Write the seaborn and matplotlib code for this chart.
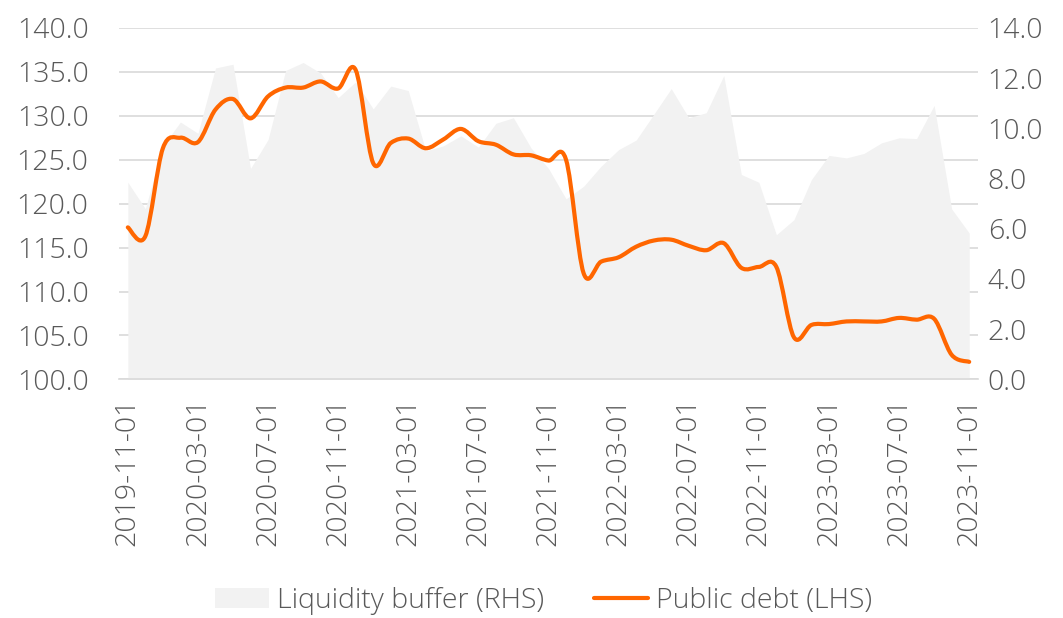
import numpy as np
import pandas as pd
import matplotlib
matplotlib.use("Agg")
import matplotlib.pyplot as plt
from matplotlib.path import Path
from matplotlib.patches import PathPatch, Patch
from matplotlib.lines import Line2D
import seaborn as sns

# Monthly observations, Nov 2019 - Nov 2023
dates = pd.date_range("2019-11-01", "2023-11-01", freq="MS").strftime("%Y-%m-%d").tolist()

public_debt = [117.3, 116.3, 126.3, 127.5, 127.0, 130.7, 131.9, 129.7, 132.2, 133.2,
               133.2, 133.9, 133.1, 135.2, 124.6, 126.9, 127.4, 126.3, 127.3, 128.5,
               127.1, 126.7, 125.6, 125.5, 124.9, 125.0, 112.1, 113.4, 113.9, 115.1,
               115.8, 115.9, 115.2, 114.7, 115.5, 112.7, 112.8, 112.8, 104.8, 106.2,
               106.3, 106.6, 106.6, 106.6, 107.0, 106.8, 106.9, 102.8, 102.0]

liquidity_buffer = [7.85, 6.8, 9.3, 10.25, 9.8, 12.4, 12.55, 8.4, 9.55, 12.3,
                    12.62, 12.2, 11.22, 11.85, 10.77, 11.68, 11.5, 9.1, 9.3, 9.7,
                    9.25, 10.2, 10.42, 9.22, 8.4, 7.19, 7.69, 8.49, 9.15, 9.53,
                    10.55, 11.58, 10.42, 10.62, 12.1, 8.16, 7.85, 5.76, 6.36, 7.96,
                    8.92, 8.82, 9.0, 9.42, 9.62, 9.59, 10.91, 6.79, 5.83]

left_ticks = [100, 105, 110, 115, 120, 125, 130, 135, 140]
right_ticks = [0, 2, 4, 6, 8, 10, 12, 14]

ORANGE = "#FF6600"
AREA = "#F2F2F2"
GRID = "#D9D9D9"
TEXT = "#595959"
FS = 20.5

sns.set_theme(style="white")
plt.rcParams["font.family"] = ["Open Sans", "DejaVu Sans"]
plt.rcParams["font.weight"] = "light"


def smooth_path(xs, ys):
    """Excel-like smoothed line as cubic Bezier segments through the points."""
    pts = np.column_stack([xs, ys]).astype(float)
    n = len(pts)
    verts = [pts[0]]
    codes = [Path.MOVETO]
    for i in range(n - 1):
        p0 = pts[i - 1] if i > 0 else pts[i]
        p1 = pts[i]
        p2 = pts[i + 1]
        p3 = pts[i + 2] if i + 2 < n else pts[i + 1]
        c1 = p1 + (p2 - p0) / 6.0
        c2 = p2 - (p3 - p1) / 6.0
        verts += [c1, c2, p2]
        codes += [Path.CURVE4] * 3
    return Path(verts, codes)


x = np.arange(len(dates))

fig = plt.figure(figsize=(10.63, 6.18), dpi=100)
ax = fig.add_axes([0.112, 0.386, 0.808, 0.569])
ax2 = ax.twinx()
ax3 = ax.twinx()

# left axis: gridlines + labels
ax.set_xlim(-0.5, len(dates) - 0.5)
ax.set_ylim(100, 140)
ax.set_yticks(left_ticks)
ax.set_yticklabels([f"{t:.1f}" for t in left_ticks])
ax.yaxis.grid(True, color=GRID, linewidth=1.2)
ax.set_axisbelow(True)
ax.set_xticks(x[::4])
ax.set_xticklabels(dates[::4], rotation=90)

# right axis: liquidity buffer area
ax2.fill_between(x, 0, liquidity_buffer, color=AREA, linewidth=0)
ax2.set_ylim(0, 14)
ax2.set_yticks(right_ticks)
ax2.set_yticklabels([f"{t:.1f}" for t in right_ticks])

# line on top, same scale as left axis
ax3.set_ylim(100, 140)
ax3.add_patch(PathPatch(smooth_path(x, public_debt), facecolor="none",
                        edgecolor=ORANGE, linewidth=3.0, capstyle="round",
                        joinstyle="round"))
ax3.set_yticks([])

for a in (ax, ax2, ax3):
    for s in a.spines.values():
        s.set_visible(False)
    a.tick_params(length=0, colors=TEXT, labelsize=FS)
ax3.spines["bottom"].set_visible(True)
ax3.spines["bottom"].set_color(GRID)
ax3.spines["bottom"].set_linewidth(1.2)

ax.tick_params(axis="y", pad=22)
ax2.tick_params(axis="y", pad=7)
ax.tick_params(axis="x", pad=13)

handles = [Patch(facecolor=AREA, edgecolor="none", label="Liquidity buffer (RHS)"),
           Line2D([0], [0], color=ORANGE, linewidth=3.0, label="Public debt (LHS)")]
leg = fig.legend(handles=handles, loc="center", bbox_to_anchor=(0.511, 0.027),
                 ncol=2, frameon=False, fontsize=FS, handlelength=1.9,
                 handletextpad=0.28, columnspacing=1.75)
for t in leg.get_texts():
    t.set_color(TEXT)

fig.savefig("out.png", dpi=100)
